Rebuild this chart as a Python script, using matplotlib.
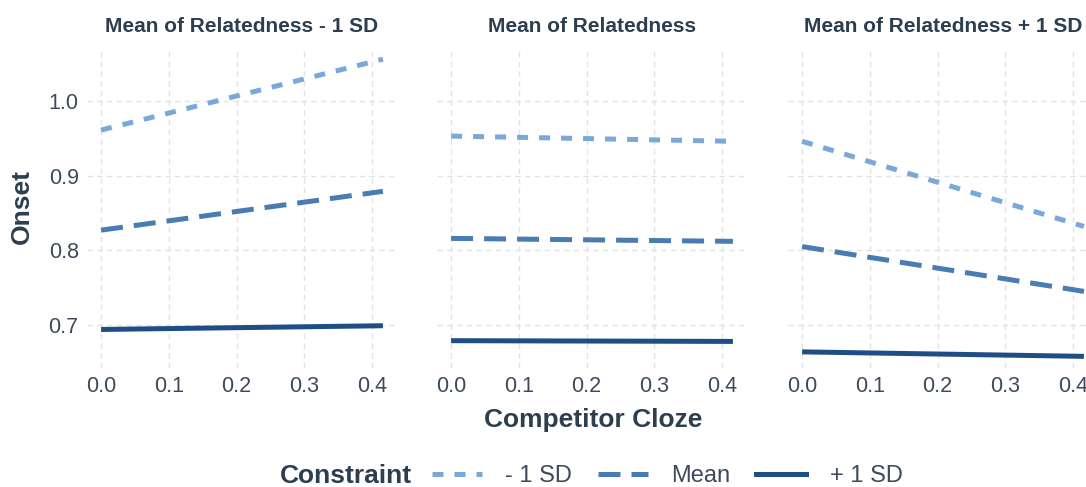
import matplotlib
matplotlib.use("Agg")
import matplotlib.pyplot as plt
from matplotlib.lines import Line2D
import numpy as np

plt.rcParams['font.family'] = ['Liberation Sans', 'DejaVu Sans']

facets = ["Mean of Relatedness - 1 SD", "Mean of Relatedness", "Mean of Relatedness + 1 SD"]
constraint_levels = ["- 1 SD", "Mean", "+ 1 SD"]
cloze = [0.0, 0.416]
# onset values [facet][constraint] at cloze endpoints
onset_minus = [[0.961, 1.056], [0.953, 0.946], [0.946, 0.832]]
onset_mean = [[0.827, 0.879], [0.816, 0.812], [0.805, 0.745]]
onset_plus = [[0.694, 0.699], [0.679, 0.678], [0.664, 0.658]]
x_ticks = [0.0, 0.1, 0.2, 0.3, 0.4]
y_ticks = [0.7, 0.8, 0.9, 1.0]

colors = ["#7aa9d8", "#4a7bb2", "#1f4e86"]
styles = [(0, (2.2, 2.2)), (0, (4.4, 2.2)), "-"]
series = [onset_minus, onset_mean, onset_plus]
LW = 3.6

W, H = 1086, 487
fig = plt.figure(figsize=(W / 100, H / 100), dpi=100)

text_col = "#2d3e50"
tick_col = "#3d4a5c"
lefts = [87, 437, 788]
pw = 310
top, bot = 47, 368
for i, f in enumerate(facets):
    ax = fig.add_axes([lefts[i] / W, 1 - bot / H, pw / W, (bot - top) / H])
    for s in range(3):
        ax.plot(cloze, series[s][i], color=colors[s], linestyle=styles[s], lw=LW,
                solid_capstyle='butt', dash_capstyle='butt')
    ax.set_xlim(-0.0208, 0.4368)
    ax.set_ylim(0.6424, 1.0723)
    ax.set_xticks(x_ticks)
    ax.set_xticklabels([f"{v:.1f}" for v in x_ticks])
    ax.set_yticks(y_ticks)
    if i == 0:
        ax.set_yticklabels([f"{v:.1f}" for v in y_ticks])
    else:
        ax.set_yticklabels([])
    ax.grid(True, color="#e3e3e3", linestyle=(0, (4, 3)), lw=1.0)
    ax.set_axisbelow(True)
    for sp in ax.spines.values():
        sp.set_visible(False)
    ax.tick_params(length=0, labelsize=15.5, labelcolor=tick_col, pad=6)
    fig.text((lefts[i] + pw / 2) / W, 1 - 27 / H, f, ha='center', va='center',
             fontsize=15, fontweight='bold', color=text_col)

fig.text(22 / W, 1 - 207 / H, "Onset", rotation=90, ha='center', va='center',
         fontsize=19, fontweight='bold', color=text_col)
fig.text(593 / W, 1 - 420 / H, "Competitor Cloze", ha='center', va='center',
         fontsize=19, fontweight='bold', color=text_col)

fig.text(346 / W, 1 - 476 / H, "Constraint", ha='center', va='center',
         fontsize=19, fontweight='bold', color=text_col)
handles = [Line2D([0], [0], color=colors[s], linestyle=styles[s], lw=LW) for s in range(3)]
leg = fig.legend(handles, constraint_levels, loc='center left', bbox_to_anchor=(432 / W, 1 - 476 / H),
                 ncol=3, frameon=False, fontsize=17, handlelength=2.1, handletextpad=1.0,
                 columnspacing=1.1, borderpad=0, borderaxespad=0)
for t in leg.get_texts():
    t.set_color(tick_col)

fig.savefig("out.png", dpi=100)
